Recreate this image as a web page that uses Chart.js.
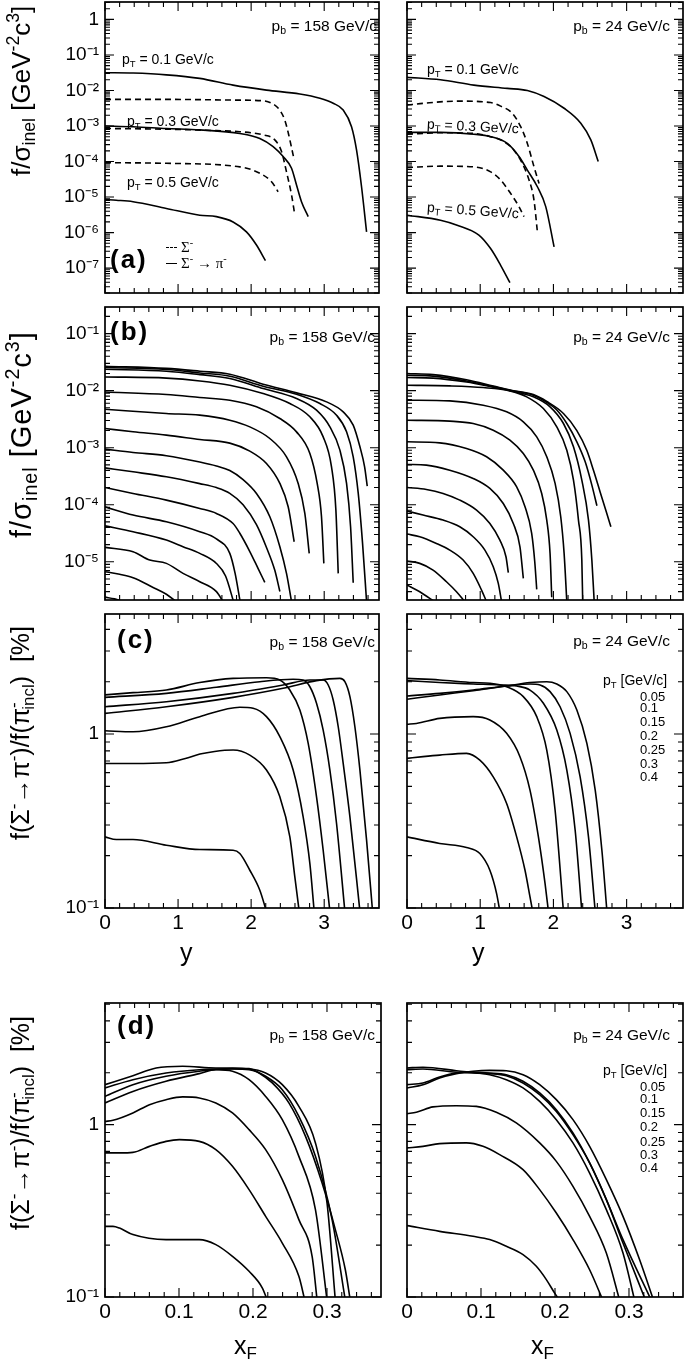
<!DOCTYPE html>
<html lang="en">
<head>
<meta charset="UTF-8">
<title>Sigma- feed-down</title>
<script src="https://cdn.jsdelivr.net/npm/chart.js"></script>
<style>
    body { margin: 0; background: #fff; }
    #page { position: relative; width: 685px; height: 1362px; overflow: hidden; background: #fff;
            font-family: "Liberation Sans", Arial, Helvetica, sans-serif; color: #000; }
    .t { position: absolute; white-space: nowrap; line-height: 1; }
    .t sub, .t sup { line-height: 0; font-size: 68%; }
    .t sub { vertical-align: -0.3em; }
    .t sup { vertical-align: 0.6em; }
    .pb { font-size: 15.5px; }
    .lab { font-size: 26px; font-weight: bold; letter-spacing: 2px; }
    .pt { font-size: 14px; }
    .leg { font-size: 13px; }
    .yt { font-size: 28px; transform-origin: 0 0; transform: rotate(-90deg); }
    .xt { font-size: 25px; }
    .sym { font-family: "Liberation Serif", "Times New Roman", serif; font-size: 15px; }
    .dash { display: inline-block; width: 11px; border-top: 1.6px dashed #000; vertical-align: middle; margin-right: 4px; }
    .solid { display: inline-block; width: 11px; border-top: 1.6px solid #000; vertical-align: middle; margin-right: 4px; }
</style>
</head>
<body>
<div id="page">
    <!-- y axis titles -->
    <div class="t yt" style="left:8px; top:176px; font-size:26px;">f/σ<sub>inel</sub> [GeV<sup>-2</sup>c<sup>3</sup>]</div>
    <div class="t yt" style="left:7px; top:538px; font-size:29px; letter-spacing:1px;">f/σ<sub>inel</sub> [GeV<sup>-2</sup>c<sup>3</sup>]</div>
    <div class="t yt" style="left:8px; top:840px; font-size:25px;">f(Σ<sup>-</sup>→π<sup>-</sup>)/f(π<sup>-</sup><sub style="margin-left:-0.45em">incl</sub>) &nbsp;[%]</div>
    <div class="t yt" style="left:8px; top:1230px; font-size:25px;">f(Σ<sup>-</sup>→π<sup>-</sup>)/f(π<sup>-</sup><sub style="margin-left:-0.45em">incl</sub>) &nbsp;[%]</div>

    <!-- x axis titles -->
    <div class="t xt" style="left:180px; top:940px;">y</div>
    <div class="t xt" style="left:472px; top:940px;">y</div>
    <div class="t xt" style="left:234px; top:1333px;">x<sub>F</sub></div>
    <div class="t xt" style="left:531px; top:1333px;">x<sub>F</sub></div>

    <!-- beam momentum -->
    <div class="t pb" style="right:308px; top:18px;">p<sub>b</sub> = 158 GeV/c</div>
    <div class="t pb" style="right:15px; top:18px;">p<sub>b</sub> = 24 GeV/c</div>
    <div class="t pb" style="right:310px; top:329px;">p<sub>b</sub> = 158 GeV/c</div>
    <div class="t pb" style="right:15px; top:329px;">p<sub>b</sub> = 24 GeV/c</div>
    <div class="t pb" style="right:310px; top:634px;">p<sub>b</sub> = 158 GeV/c</div>
    <div class="t pb" style="right:15px; top:633px;">p<sub>b</sub> = 24 GeV/c</div>
    <div class="t pb" style="right:310px; top:1027px;">p<sub>b</sub> = 158 GeV/c</div>
    <div class="t pb" style="right:15px; top:1027px;">p<sub>b</sub> = 24 GeV/c</div>

    <!-- panel letters -->
    <div class="t lab" style="left:110px; top:246px;">(a)</div>
    <div class="t lab" style="left:110px; top:318px;">(b)</div>
    <div class="t lab" style="left:117px; top:626px;">(c)</div>
    <div class="t lab" style="left:117px; top:1012px;">(d)</div>

    <!-- pT labels, panel (a) -->
    <div class="t pt" style="left:122px; top:52px;">p<sub>T</sub> = 0.1 GeV/c</div>
    <div class="t pt" style="left:127px; top:114px;">p<sub>T</sub> = 0.3 GeV/c</div>
    <div class="t pt" style="left:127px; top:175px;">p<sub>T</sub> = 0.5 GeV/c</div>
    <div class="t pt" style="left:427px; top:62px;">p<sub>T</sub> = 0.1 GeV/c</div>
    <div class="t pt" style="left:427px; top:119px; transform:rotate(3deg);">p<sub>T</sub> = 0.3 GeV/c</div>
    <div class="t pt" style="left:427px; top:203px; transform:rotate(4deg);">p<sub>T</sub> = 0.5 GeV/c</div>

    <!-- line style legend, panel (a) -->
    <div class="t" style="left:166px; top:239px;"><span class="dash"></span><span class="sym">Σ<sup>-</sup></span></div>
    <div class="t" style="left:166px; top:255px;"><span class="solid"></span><span class="sym">Σ<sup>-</sup> → π<sup>-</sup></span></div>

    <!-- pT legend, panel (c) right -->
    <div class="t leg" style="left:603px; top:673px; font-size:14px;">p<sub>T</sub> [GeV/c]</div>
    <div class="t leg" style="left:640px; top:690px;">0.05</div>
    <div class="t leg" style="left:640px; top:701px;">0.1</div>
    <div class="t leg" style="left:640px; top:715px;">0.15</div>
    <div class="t leg" style="left:640px; top:729px;">0.2</div>
    <div class="t leg" style="left:640px; top:743px;">0.25</div>
    <div class="t leg" style="left:640px; top:757px;">0.3</div>
    <div class="t leg" style="left:640px; top:770px;">0.4</div>

    <!-- pT legend, panel (d) right -->
    <div class="t leg" style="left:603px; top:1063px; font-size:14px;">p<sub>T</sub> [GeV/c]</div>
    <div class="t leg" style="left:640px; top:1080px;">0.05</div>
    <div class="t leg" style="left:640px; top:1092px;">0.1</div>
    <div class="t leg" style="left:640px; top:1106px;">0.15</div>
    <div class="t leg" style="left:640px; top:1120px;">0.2</div>
    <div class="t leg" style="left:640px; top:1135px;">0.25</div>
    <div class="t leg" style="left:640px; top:1148px;">0.3</div>
    <div class="t leg" style="left:640px; top:1161px;">0.4</div>
</div>

<script>
    // ---------- data (x = rapidity y or x_F; values stored as log10) ----------

    // (a) pT = 0.1 / 0.3 / 0.5 GeV/c, solid = Sigma- -> pi-, dashed = Sigma-
    const a158_x = [
        [0, .384, .840, 1.297, 1.753, 2.210, 2.667, 2.941, 3.123, 3.260, 3.374, 3.443, 3.511, 3.580],
        [0, .84, 1.75, 2.16, 2.30, 2.39, 2.46, 2.51, 2.55, 2.59],
        [0, .384, .840, 1.297, 1.845, 2.119, 2.301, 2.438, 2.553, 2.621, 2.689, 2.781],
        [0, .840, 1.525, 1.845, 2.164, 2.324, 2.416, 2.484, 2.553, 2.598],
        [0, .155, .384, .840, 1.297, 1.525, 1.753, 1.936, 2.073, 2.196],
        [0, .840, 1.845, 2.119, 2.279, 2.370]
    ];
    const a158_lg = [
        [-1.50, -1.51, -1.56, -1.66, -1.85, -1.99, -2.10, -2.22, -2.36, -2.55, -3.02, -3.68, -4.71, -5.98],
        [-2.25, -2.25, -2.27, -2.29, -2.38, -2.55, -2.83, -3.21, -3.58, -3.96],
        [-3.00, -3.02, -3.07, -3.11, -3.21, -3.35, -3.58, -3.86, -4.19, -4.66, -5.13, -5.55],
        [-3.07, -3.09, -3.13, -3.16, -3.25, -3.39, -3.72, -4.29, -4.94, -5.51],
        [-5.07, -5.09, -5.13, -5.32, -5.51, -5.55, -5.70, -5.98, -6.35, -6.79],
        [-4.03, -4.05, -4.15, -4.33, -4.57, -4.85]
    ];
    const a24_x = [
        [0, .457, .913, 1.370, 1.644, 1.872, 2.146, 2.374, 2.511, 2.612],
        [0, .228, .685, 1.142, 1.279, 1.438, 1.553, 1.644, 1.735, 1.804],
        [0, .457, .913, 1.142, 1.370, 1.530, 1.644, 1.781, 1.895, 2.009],
        [0, .457, .913, 1.142, 1.324, 1.461, 1.575, 1.667, 1.735, 1.781],
        [0, .457, .685, .982, 1.142, 1.279, 1.406],
        [0, .457, .913, 1.142, 1.279, 1.416, 1.530, 1.598]
    ];
    const a24_lg = [
        [-1.63, -1.70, -1.85, -1.94, -2.00, -2.17, -2.50, -2.92, -3.39, -4.00],
        [-2.41, -2.36, -2.30, -2.34, -2.44, -2.64, -3.02, -3.49, -4.15, -4.62],
        [-3.18, -3.18, -3.23, -3.30, -3.49, -3.86, -4.24, -4.71, -5.27, -6.40],
        [-3.23, -3.19, -3.21, -3.30, -3.44, -3.68, -4.05, -4.52, -5.09, -5.98],
        [-5.51, -5.65, -5.79, -6.07, -6.45, -6.92, -7.41],
        [-4.17, -4.13, -4.15, -4.29, -4.52, -4.90, -5.27, -5.55]
    ];
    const a_dashed = [false, true, false, true, false, true];

    // (b) all pT bins
    const b158_x = [
        [0, .84, 1.30, 1.708, 2.164, 2.621, 3.032, 3.260, 3.397, 3.489, 3.553, 3.589],
        [0, .84, 1.30, 1.708, 2.164, 2.621, 2.941, 3.169, 3.306, 3.397, 3.466, 3.525, 3.58],
        [0, .84, 1.30, 1.708, 2.164, 2.621, 2.895, 3.078, 3.215, 3.306, 3.361, 3.397],
        [0, .84, 1.30, 1.708, 2.164, 2.53, 2.804, 2.986, 3.1, 3.16, 3.192],
        [0, .84, 1.297, 1.708, 2.073, 2.393, 2.621, 2.804, 2.904, 2.963, 2.995],
        [0, .84, 1.297, 1.708, 1.982, 2.256, 2.484, 2.644, 2.735, 2.795],
        [0, .384, .84, 1.297, 1.708, 1.982, 2.21, 2.393, 2.507, 2.589],
        [0, .384, .84, 1.297, 1.525, 1.708, 1.89, 2.073, 2.256, 2.393, 2.484, 2.553],
        [0, .384, .84, 1.297, 1.525, 1.708, 1.89, 2.073, 2.21, 2.324, 2.393],
        [0, .384, .84, 1.297, 1.525, 1.753, 1.845, 1.982, 2.096, 2.187],
        [0, .384, .84, 1.297, 1.525, 1.708, 1.78, 1.85],
        [0, .384, .84, 1.068, 1.297, 1.525, 1.65, 1.76],
        [0, .384, .612, .84, 1.068, 1.297, 1.525, 1.616],
        [0, .2, .384, .658, .84, .977],
        [0, .13, .25]
    ];
    const b158_lg = [
        [-1.572, -1.61, -1.66, -1.712, -1.887, -2.039, -2.197, -2.372, -2.605, -2.985, -3.335, -3.674],
        [-1.595, -1.63, -1.69, -1.747, -1.922, -2.063, -2.226, -2.431, -2.722, -3.16, -3.802, -4.678, -5.70],
        [-1.625, -1.66, -1.72, -1.788, -1.963, -2.138, -2.343, -2.635, -3.043, -3.627, -4.386, -5.367],
        [-1.76, -1.78, -1.83, -1.905, -2.051, -2.226, -2.459, -2.81, -3.335, -4.094, -5.203],
        [-2.023, -2.068, -2.12, -2.168, -2.284, -2.489, -2.723, -3.102, -3.627, -4.211, -5.028],
        [-2.326, -2.40, -2.43, -2.518, -2.635, -2.839, -3.16, -3.627, -4.152, -4.853],
        [-2.664, -2.722, -2.78, -2.856, -2.92, -3.06, -3.277, -3.627, -4.036, -4.649],
        [-3.026, -3.084, -3.14, -3.25, -3.32, -3.40, -3.56, -3.802, -4.211, -4.736, -5.203, -5.70],
        [-3.354, -3.423, -3.51, -3.63, -3.70, -3.80, -4.00, -4.35, -4.75, -5.15, -5.52],
        [-3.697, -3.802, -3.919, -4.065, -4.152, -4.33, -4.50, -4.82, -5.12, -5.36],
        [-4.037, -4.181, -4.298, -4.473, -4.60, -4.853, -5.2, -5.70],
        [-4.37, -4.474, -4.62, -4.736, -4.853, -5.03, -5.25, -5.70],
        [-4.748, -4.824, -4.97, -5.028, -5.203, -5.349, -5.524, -5.70],
        [-5.175, -5.22, -5.28, -5.45, -5.57, -5.70],
        [-5.62, -5.65, -5.70]
    ];
    const b24_x = [
        [0, .356, .813, 1.178, 1.406, 1.726, 1.909, 2.137, 2.32, 2.457, 2.548, 2.639, 2.721, 2.785],
        [0, .356, .813, 1.178, 1.406, 1.726, 1.863, 2.046, 2.183, 2.32, 2.434, 2.525, 2.594],
        [0, .356, .813, 1.178, 1.406, 1.726, 1.954, 2.137, 2.274, 2.388, 2.479, 2.525, 2.557],
        [0, .584, 1.041, 1.406, 1.635, 1.863, 2.046, 2.183, 2.274, 2.342, 2.388, 2.40],
        [0, .584, 1.041, 1.361, 1.589, 1.772, 1.909, 2.023, 2.1, 2.146, 2.183],
        [0, .584, .904, 1.178, 1.406, 1.589, 1.726, 1.84, 1.909, 1.954, 1.977],
        [0, .447, .813, 1.087, 1.315, 1.498, 1.612, 1.703, 1.745, 1.772],
        [0, .265, .584, .904, 1.132, 1.315, 1.452, 1.543, 1.589],
        [0, .265, .493, .721, .95, 1.132, 1.269, 1.352, 1.384],
        [0, .219, .493, .721, .904, 1.064, 1.178, 1.247, 1.292],
        [0, .174, .402, .584, .767, .904, 1.018, 1.087],
        [0, .174, .356, .539, .676, .79],
        [0, .174, .379]
    ];
    const b24_lg = [
        [-1.70, -1.72, -1.81, -1.92, -1.99, -2.07, -2.19, -2.40, -2.70, -3.05, -3.40, -3.78, -4.12, -4.386],
        [-1.73, -1.745, -1.83, -1.93, -1.995, -2.08, -2.17, -2.34, -2.576, -2.897, -3.248, -3.656, -4.018],
        [-1.77, -1.78, -1.85, -1.94, -2.0, -2.109, -2.284, -2.576, -2.985, -3.569, -4.269, -4.969, -5.70],
        [-1.905, -1.917, -1.946, -2.004, -2.109, -2.314, -2.635, -3.044, -3.569, -4.269, -4.969, -5.70],
        [-2.168, -2.18, -2.255, -2.372, -2.547, -2.81, -3.16, -3.627, -4.211, -4.853, -5.70],
        [-2.518, -2.535, -2.576, -2.693, -2.868, -3.102, -3.394, -3.802, -4.269, -4.853, -5.623],
        [-2.897, -2.915, -3.015, -3.16, -3.394, -3.686, -4.036, -4.503, -5.0, -5.483],
        [-3.294, -3.306, -3.394, -3.54, -3.715, -3.978, -4.328, -4.737, -5.291],
        [-3.697, -3.732, -3.802, -3.919, -4.094, -4.328, -4.62, -4.912, -5.192],
        [-4.111, -4.181, -4.269, -4.386, -4.561, -4.795, -5.087, -5.379, -5.70],
        [-4.514, -4.561, -4.678, -4.795, -4.97, -5.204, -5.496, -5.70],
        [-4.987, -5.028, -5.145, -5.35, -5.525, -5.70],
        [-5.407, -5.525, -5.70]
    ];

    // (c) ratio vs y, pT = 0.05, 0.1, 0.15, 0.2, 0.25, 0.3, 0.4 GeV/c  (log10 of %)
    const c158_x = [
        [0, .84, 1.753, 2.438, 2.895, 3.215, 3.283, 3.352, 3.420, 3.489, 3.580, 3.662],
        [0, .84, 1.753, 2.438, 2.804, 2.986, 3.055, 3.123, 3.192, 3.260, 3.352, 3.489],
        [0, .84, 1.525, 2.119, 2.575, 2.712, 2.804, 2.895, 2.986, 3.078, 3.169, 3.283],
        [0, .384, .84, 1.297, 1.753, 2.21, 2.393, 2.53, 2.667, 2.781, 2.895, 2.986, 3.078],
        [0, .384, .84, 1.297, 1.845, 2.027, 2.21, 2.393, 2.575, 2.712, 2.804, 2.863],
        [0, .384, .84, 1.1, 1.3, 1.5, 1.753, 1.982, 2.21, 2.393, 2.53, 2.598, 2.658],
        [0, .155, .384, .84, 1.297, 1.753, 1.845, 1.982, 2.119, 2.21]
    ];
    const c158_lg = [
        [.119, .157, .211, .263, .307, .320, .301, .215, .042, -.207, -.610, -1.02],
        [.157, .186, .234, .282, .311, .311, .282, .196, .042, -.169, -.476, -1.02],
        [.211, .234, .269, .301, .315, .311, .272, .177, .023, -.207, -.514, -1.02],
        [.225, .238, .253, .296, .320, .324, .311, .253, .138, -.054, -.361, -.668, -1.02],
        [.019, .013, .042, .100, .154, .148, .100, -.015, -.207, -.476, -.745, -1.02],
        [-.169, -.169, -.165, -.14, -.115, -.10, -.092, -.121, -.207, -.361, -.591, -.821, -1.02],
        [-.591, -.606, -.606, -.639, -.664, -.668, -.687, -.783, -.898, -1.02]
    ];
    const c24_x = [
        [0, .447, .904, 1.361, 1.680, 1.909, 2.046, 2.183, 2.32, 2.457, 2.571, 2.662, 2.731],
        [0, .447, .904, 1.361, 1.68, 1.817, 1.954, 2.091, 2.228, 2.365, 2.479, 2.571],
        [0, .447, .904, 1.269, 1.498, 1.68, 1.863, 2.046, 2.183, 2.297, 2.388],
        [0, .447, .904, 1.132, 1.361, 1.589, 1.772, 1.909, 2.023, 2.137],
        [0, .128, .447, .904, 1.132, 1.361, 1.543, 1.68, 1.795, 1.886, 1.932],
        [0, .219, .447, .813, .995, 1.178, 1.361, 1.498, 1.612, 1.68, 1.717],
        [0, .447, .813, .995, 1.132, 1.224, 1.269]
    ];
    const c24_lg = [
        [.200, .225, .249, .276, .296, .301, .288, .244, .138, -.054, -.322, -.668, -1.02],
        [.219, .234, .253, .276, .288, .282, .244, .157, .004, -.246, -.591, -1.02],
        [.307, .296, .288, .282, .276, .253, .177, .023, -.207, -.553, -1.02],
        [.320, .311, .296, .292, .272, .215, .100, -.092, -.438, -1.02],
        [.056, .061, .090, .100, .081, .004, -.130, -.322, -.591, -.860, -1.02],
        [-.140, -.130, -.121, -.111, -.150, -.246, -.399, -.591, -.783, -.936, -1.02],
        [-.591, -.629, -.652, -.687, -.783, -.917, -1.02]
    ];

    // (d) ratio vs x_F, same pT bins
    const d158_x = [
        [0, .0377, .0691, .105, .1498, .1723, .1947, .2082, .2261, .2485, .2710, .2934, .3113, .3248, .3315],
        [0, .0377, .0825, .1274, .1723, .1947, .2171, .2396, .262, .2844, .3069, .3248],
        [0, .0377, .0825, .1274, .1723, .1947, .2171, .2396, .262, .2844, .3001, .3113],
        [0, .0377, .0825, .1274, .1498, .1723, .1947, .2171, .2396, .262, .2844, .3001],
        [0, .0108, .0377, .0601, .0825, .105, .1274, .1498, .1723, .1947, .2171, .2396, .262, .2799, .2867],
        [0, .0197, .0377, .0601, .0825, .1005, .1274, .1498, .1723, .1947, .2171, .2396, .262, .2701],
        [0, .0108, .0197, .0377, .0825, .1274, .1498, .1723, .1947, .2127, .2194]
    ];
    const d158_lg = [
        [.232, .284, .329, .339, .329, .329, .325, .300, .242, .126, -.068, -.339, -.609, -.842, -1.02],
        [.213, .261, .300, .319, .323, .319, .281, .203, .048, -.184, -.551, -1.02],
        [.164, .232, .281, .310, .325, .323, .300, .232, .106, -.106, -.455, -1.02],
        [.126, .193, .252, .296, .319, .310, .261, .164, .029, -.184, -.493, -1.02],
        [.019, .025, .068, .116, .145, .161, .155, .126, .068, -.029, -.145, -.319, -.551, -.764, -1.02],
        [-.164, -.164, -.161, -.126, -.097, -.087, -.097, -.145, -.242, -.377, -.532, -.687, -.880, -1.02],
        [-.590, -.590, -.600, -.638, -.667, -.667, -.696, -.764, -.851, -.948, -1.02]
    ];
    const d24_x = [
        [0, .0216, .0441, .0667, .0892, .1117, .1342, .1568, .1793, .2018, .2243, .2468, .2694, .2919, .3144, .3333],
        [0, .0216, .0441, .0667, .0892, .1117, .1342, .1568, .1793, .2018, .2243, .2468, .2694, .2919, .3302],
        [0, .0216, .0667, .1117, .1342, .1568, .1793, .2018, .2243, .2468, .2694, .2919, .3225],
        [0, .0216, .0667, .1117, .1342, .1568, .1793, .2018, .2243, .2468, .2694, .2919, .3077],
        [0, .0126, .0351, .0667, .0937, .1207, .1477, .1793, .2018, .2243, .2468, .2694, .2874],
        [0, .0216, .0441, .0802, .1027, .1252, .1568, .1793, .2018, .2243, .2468, .2649],
        [0, .0441, .0892, .1117, .1342, .1568, .1748, .1883, .1995, .2063]
    ];
    const d24_lg = [
        [.213, .232, .271, .296, .310, .315, .313, .290, .232, .145, .029, -.126, -.319, -.532, -.784, -1.02],
        [.232, .242, .277, .300, .304, .300, .290, .252, .184, .087, -.048, -.222, -.435, -.667, -1.02],
        [.319, .323, .304, .296, .284, .242, .174, .077, -.058, -.222, -.435, -.687, -1.02],
        [.329, .333, .313, .290, .261, .213, .135, .029, -.106, -.281, -.493, -.745, -1.02],
        [.064, .072, .103, .110, .106, .072, .010, -.106, -.213, -.358, -.532, -.745, -1.02],
        [-.135, -.126, -.110, -.106, -.126, -.174, -.261, -.377, -.513, -.667, -.842, -1.02],
        [-.586, -.619, -.648, -.667, -.706, -.754, -.822, -.899, -.977, -1.02]
    ];

    // axis tick labels
    const yLabelsA = [1e-7, 1e-6, 1e-5, 1e-4, 1e-3, 1e-2, 1e-1, 1];
    const yLabelsB = [1e-5, 1e-4, 1e-3, 1e-2, 1e-1];
    const yLabelsCD = [0.1, 1];
    const xLabelsY = [0, 1, 2, 3];
    const xLabelsXF = [0, 0.1, 0.2, 0.3];

    // ---------- drawing ----------
    Chart.defaults.font.family = '"Liberation Sans", Arial, Helvetica, sans-serif';
    Chart.defaults.color = '#000';

    const SUP = { '-': '⁻', '0': '⁰', '1': '¹', '2': '²', '3': '³', '4': '⁴', '5': '⁵', '6': '⁶', '7': '⁷', '8': '⁸', '9': '⁹' };
    function powLabel(v) {
        const e = Math.round(Math.log10(v));
        if (e === 0) return '1';
        return '10' + String(e).split('').map(c => SUP[c]).join('');
    }

    // inward ticks on all four sides + frame
    const frameTicks = {
        id: 'frameTicks',
        afterDraw(chart, args, o) {
            const { ctx, chartArea: a } = chart;
            const sx = chart.scales.x, sy = chart.scales.y;
            ctx.save();
            ctx.strokeStyle = '#000';
            ctx.lineWidth = 1.1;
            ctx.beginPath();
            o.xTicks.forEach(([v, len]) => {
                const p = sx.getPixelForValue(v);
                ctx.moveTo(p, a.bottom); ctx.lineTo(p, a.bottom - len);
                ctx.moveTo(p, a.top); ctx.lineTo(p, a.top + len);
            });
            o.yTicks.forEach(([v, len]) => {
                const p = sy.getPixelForValue(v);
                ctx.moveTo(a.left, p); ctx.lineTo(a.left + len, p);
                ctx.moveTo(a.right, p); ctx.lineTo(a.right - len, p);
            });
            ctx.stroke();
            ctx.lineWidth = 1.7;
            ctx.strokeRect(a.left, a.top, a.right - a.left, a.bottom - a.top);
            ctx.restore();
        }
    };
    Chart.register(frameTicks);

    function linTicks(max, step, every) {
        const out = [];
        for (let i = 0; i * step <= max + 1e-9; i++) out.push([i * step, i % every === 0 ? 9 : 5]);
        return out;
    }
    function logTicks(min, max) {
        const out = [];
        for (let d = Math.floor(Math.log10(min)); d <= Math.ceil(Math.log10(max)); d++) {
            for (let m = 1; m <= 9; m++) {
                const v = m * Math.pow(10, d);
                if (v >= min && v <= max) out.push([v, m === 1 ? 9 : 5]);
            }
        }
        return out;
    }

    function addPanel(p) {
        const padT = 2, padR = 2;
        const [l, t, r, b] = p.frame;
        const w = r - l + p.padL + padR;
        const h = b - t + padT + p.padB;
        const cv = document.createElement('canvas');
        cv.width = w; cv.height = h;
        cv.style.cssText = `position:absolute;left:${l - p.padL}px;top:${t - padT}px;width:${w}px;height:${h}px;`;
        document.getElementById('page').prepend(cv);

        const datasets = p.xs.map((xs, i) => ({
            data: xs.map((x, k) => ({ x: x, y: Math.pow(10, p.lg[i][k]) })),
            borderColor: '#000',
            borderWidth: 1.6,
            borderDash: p.dashed && p.dashed[i] ? [6, 4] : [],
            pointRadius: 0,
            fill: false,
            cubicInterpolationMode: 'monotone'
        }));

        new Chart(cv, {
            type: 'scatter',
            data: { datasets: datasets },
            options: {
                responsive: false,
                animation: false,
                showLine: true,
                devicePixelRatio: 1,
                layout: { autoPadding: false, padding: { top: padT, right: padR, left: 0, bottom: 0 } },
                plugins: {
                    legend: { display: false },
                    tooltip: { enabled: false },
                    frameTicks: { xTicks: p.xTicks, yTicks: p.yTicks }
                },
                scales: {
                    x: {
                        type: 'linear', min: 0, max: p.xmax,
                        afterFit: s => { s.height = p.padB; s.paddingLeft = 0; s.paddingRight = 0; },
                        afterBuildTicks: s => { s.ticks = p.xLabels.map(v => ({ value: v })); },
                        ticks: {
                            display: p.showX, font: { size: 21 }, color: '#000', padding: 3,
                            maxRotation: 0, autoSkip: false, callback: v => String(v)
                        },
                        grid: { display: false, drawTicks: false },
                        border: { display: false }
                    },
                    y: {
                        type: 'logarithmic', min: p.ymin, max: p.ymax,
                        afterFit: s => { s.width = p.padL; s.paddingTop = 0; s.paddingBottom = 0; },
                        afterBuildTicks: s => { s.ticks = p.yLabels.map(v => ({ value: v })); },
                        ticks: {
                            display: p.showY, font: { size: 19 }, color: '#000', padding: 6,
                            autoSkip: false, callback: v => powLabel(v)
                        },
                        grid: { display: false, drawTicks: false },
                        border: { display: false }
                    }
                }
            }
        });
    }

    const yA = [Math.pow(10, -7.70), Math.pow(10, 0.49)];
    const yB = [Math.pow(10, -5.67), Math.pow(10, -0.534)];
    const yC = [0.1, 4.9];
    const yD = [0.1, 5.08];

    const panels = [
        { frame: [105, 2, 379, 293], padL: 105, padB: 4, xmax: 3.75, xs: a158_x, lg: a158_lg, dashed: a_dashed,
          ymin: yA[0], ymax: yA[1], yLabels: yLabelsA, xLabels: xLabelsY, showX: false, showY: true },
        { frame: [407, 2, 683, 293], padL: 14, padB: 4, xmax: 3.77, xs: a24_x, lg: a24_lg, dashed: a_dashed,
          ymin: yA[0], ymax: yA[1], yLabels: yLabelsA, xLabels: xLabelsY, showX: false, showY: false },
        { frame: [105, 307, 379, 600], padL: 105, padB: 4, xmax: 3.75, xs: b158_x, lg: b158_lg,
          ymin: yB[0], ymax: yB[1], yLabels: yLabelsB, xLabels: xLabelsY, showX: false, showY: true },
        { frame: [407, 307, 683, 600], padL: 14, padB: 4, xmax: 3.77, xs: b24_x, lg: b24_lg,
          ymin: yB[0], ymax: yB[1], yLabels: yLabelsB, xLabels: xLabelsY, showX: false, showY: false },
        { frame: [105, 614, 379, 908], padL: 105, padB: 40, xmax: 3.75, xs: c158_x, lg: c158_lg,
          ymin: yC[0], ymax: yC[1], yLabels: yLabelsCD, xLabels: xLabelsY, showX: true, showY: true },
        { frame: [407, 614, 683, 908], padL: 14, padB: 40, xmax: 3.77, xs: c24_x, lg: c24_lg,
          ymin: yC[0], ymax: yC[1], yLabels: yLabelsCD, xLabels: xLabelsY, showX: true, showY: false },
        { frame: [105, 1003, 381, 1297], padL: 105, padB: 40, xmax: 0.373, xs: d158_x, lg: d158_lg,
          ymin: yD[0], ymax: yD[1], yLabels: yLabelsCD, xLabels: xLabelsXF, showX: true, showY: true },
        { frame: [407, 1003, 683, 1297], padL: 14, padB: 40, xmax: 0.373, xs: d24_x, lg: d24_lg,
          ymin: yD[0], ymax: yD[1], yLabels: yLabelsCD, xLabels: xLabelsXF, showX: true, showY: false }
    ];

    panels.forEach(p => {
        const isXF = p.xLabels === xLabelsXF;
        p.xTicks = isXF ? linTicks(p.xmax, 0.02, 5) : linTicks(p.xmax, 0.2, 5);
        p.yTicks = logTicks(p.ymin, p.ymax);
        addPanel(p);
    });
</script>
</body>
</html>
